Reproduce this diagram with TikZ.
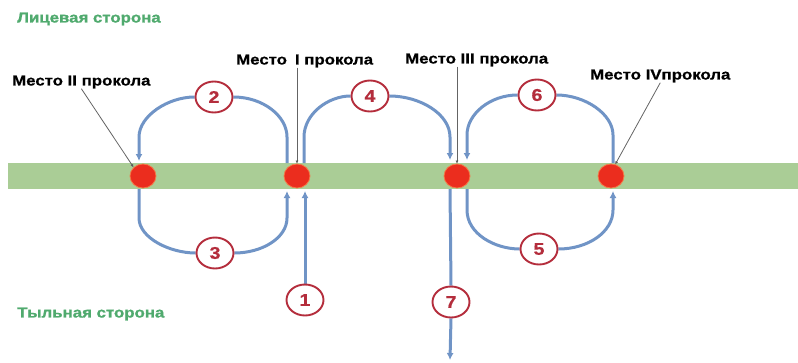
\documentclass[tikz,border=0pt]{standalone}
\usepackage{fontspec}
\setmainfont[FakeStretch=1.18]{Liberation Sans}
\newfontfamily\heavyfont[FakeStretch=1.16,FakeBold=1.2]{Liberation Sans}
\newfontfamily\labelfont[FakeStretch=1.16,FakeBold=0.6]{Liberation Sans}
\usetikzlibrary{arrows.meta,shapes.geometric}
\definecolor{bandgreen}{RGB}{170,205,150}
\definecolor{sidegreen}{RGB}{80,170,110}
\definecolor{dotred}{RGB}{235,45,30}
\definecolor{dotedge}{RGB}{245,120,70}
\definecolor{numred}{RGB}{180,45,60}
\definecolor{flowblue}{RGB}{112,148,198}
\definecolor{leadgray}{RGB}{100,100,100}
\pgfdeclarelayer{bg}
\pgfsetlayers{bg,main}
\begin{document}
\begin{tikzpicture}[x=1pt,y=-1pt,
  lbl/.style={font=\labelfont\fontsize{14.5}{16}\selectfont\bfseries, text=black, inner sep=0pt, anchor=west},
  sidelbl/.style={font=\heavyfont\fontsize{14.5}{16}\selectfont\bfseries, text=sidegreen, inner sep=0pt, anchor=west},
  dotc/.style={ellipse, fill=dotred, draw=dotedge, line width=0.8pt, minimum width=26pt, minimum height=24pt, inner sep=0pt},
  numc/.style={ellipse, draw=numred, line width=1.9pt, fill=white, minimum width=37pt, minimum height=31pt, inner sep=0pt, text=numred, font=\labelfont\fontsize{17}{17}\selectfont\bfseries},
  flow/.style={draw=flowblue, line width=3pt},
  tipend/.style={-{Latex[length=7pt,width=7pt]}},
  lead/.style={draw=leadgray, line width=0.8pt, -{Latex[length=3pt,width=3pt,fill=black]}}
]
\useasboundingbox (0,0) rectangle (798,362);

% texts
\node[sidelbl] (front) at (17,19) {Лицевая сторона};
\node[sidelbl] (back) at (17,314) {Тыльная сторона};
\node[lbl] (lII) at (12,82) {Место II прокола};
\node[lbl] (lI) at (236,61) {Место\hspace{0.55em}I прокола};
\node[lbl] (lIII) at (405,60) {Место III прокола};
\node[lbl] (lIV) at (590,76) {Место IVпрокола};

% puncture dots
\node[dotc] (dII) at (143,176) {};
\node[dotc] (dI) at (297,176) {};
\node[dotc] (dIII) at (457,176) {};
\node[dotc] (dIV) at (611,176) {};

% numbered circles
\node[numc] (n1) at (305,300) {1};
\node[numc] (n2) at (214,97) {2};
\node[numc] (n3) at (215,253) {3};
\node[numc] (n4) at (370,96) {4};
\node[numc] (n5) at (539,249) {5};
\node[numc] (n6) at (537,95) {6};
\node[numc] (n7) at (451,302) {7};

% leg coordinates
\coordinate (IIt) at (139,161);
\coordinate (IIb) at (139,189);
\coordinate (It2) at (287,163);
\coordinate (Ib3) at (287,191);
\coordinate (Ib1) at (305,191);
\coordinate (It4) at (304,163);
\coordinate (IIIt4) at (450,160);
\coordinate (IIIb7) at (450,189);
\coordinate (IIIt6) at (467,160);
\coordinate (IIIb5) at (467,189);
\coordinate (IVb5) at (613,191);
\coordinate (IVt6) at (613,163);
\coordinate (end7) at (450,360);

\begin{pgfonlayer}{bg}
\fill[bandgreen] (8,163) rectangle (798,189);
% 1
\draw[flow,tipend] (n1.north) -- (Ib1);
% 2
\draw[flow] (It2) -- (287,137) .. controls (287,116) and (263,97) .. (n2.east);
\draw[flow,tipend] (n2.west) .. controls (168,97) and (139,116) .. (139,137) -- (IIt);
% 3
\draw[flow] (IIb) -- (139,218) .. controls (139,238) and (170,253) .. (n3.west);
\draw[flow,tipend] (n3.east) .. controls (262,253) and (287,238) .. (287,218) -- (Ib3);
% 4
\draw[flow] (It4) -- (304,137) .. controls (304,114) and (328,96) .. (n4.west);
\draw[flow,tipend] (n4.east) .. controls (420,96) and (450,114) .. (450,137) -- (IIIt4);
% 5
\draw[flow] (IIIb5) -- (467,210) .. controls (467,234) and (495,249) .. (n5.west);
\draw[flow,tipend] (n5.east) .. controls (588,249) and (613,232) .. (613,210) -- (IVb5);
% 6
\draw[flow] (IVt6) -- (613,135) .. controls (613,114) and (585,95) .. (n6.east);
\draw[flow,tipend] (n6.west) .. controls (490,95) and (467,114) .. (467,135) -- (IIIt6);
% 7
\draw[flow] (IIIb7) -- (n7.north);
\draw[flow,tipend] (n7.south) -- (end7);
\end{pgfonlayer}

% leaders
\draw[lead] (lII.south) -- (dII.north west);
\draw[lead] (dI |- lI.south) -- (dI.north);
\draw[lead] (dIII |- lIII.south) -- (dIII.north);
\draw[lead] (lIV.south) -- (dIV.70);
\end{tikzpicture}
\end{document}
